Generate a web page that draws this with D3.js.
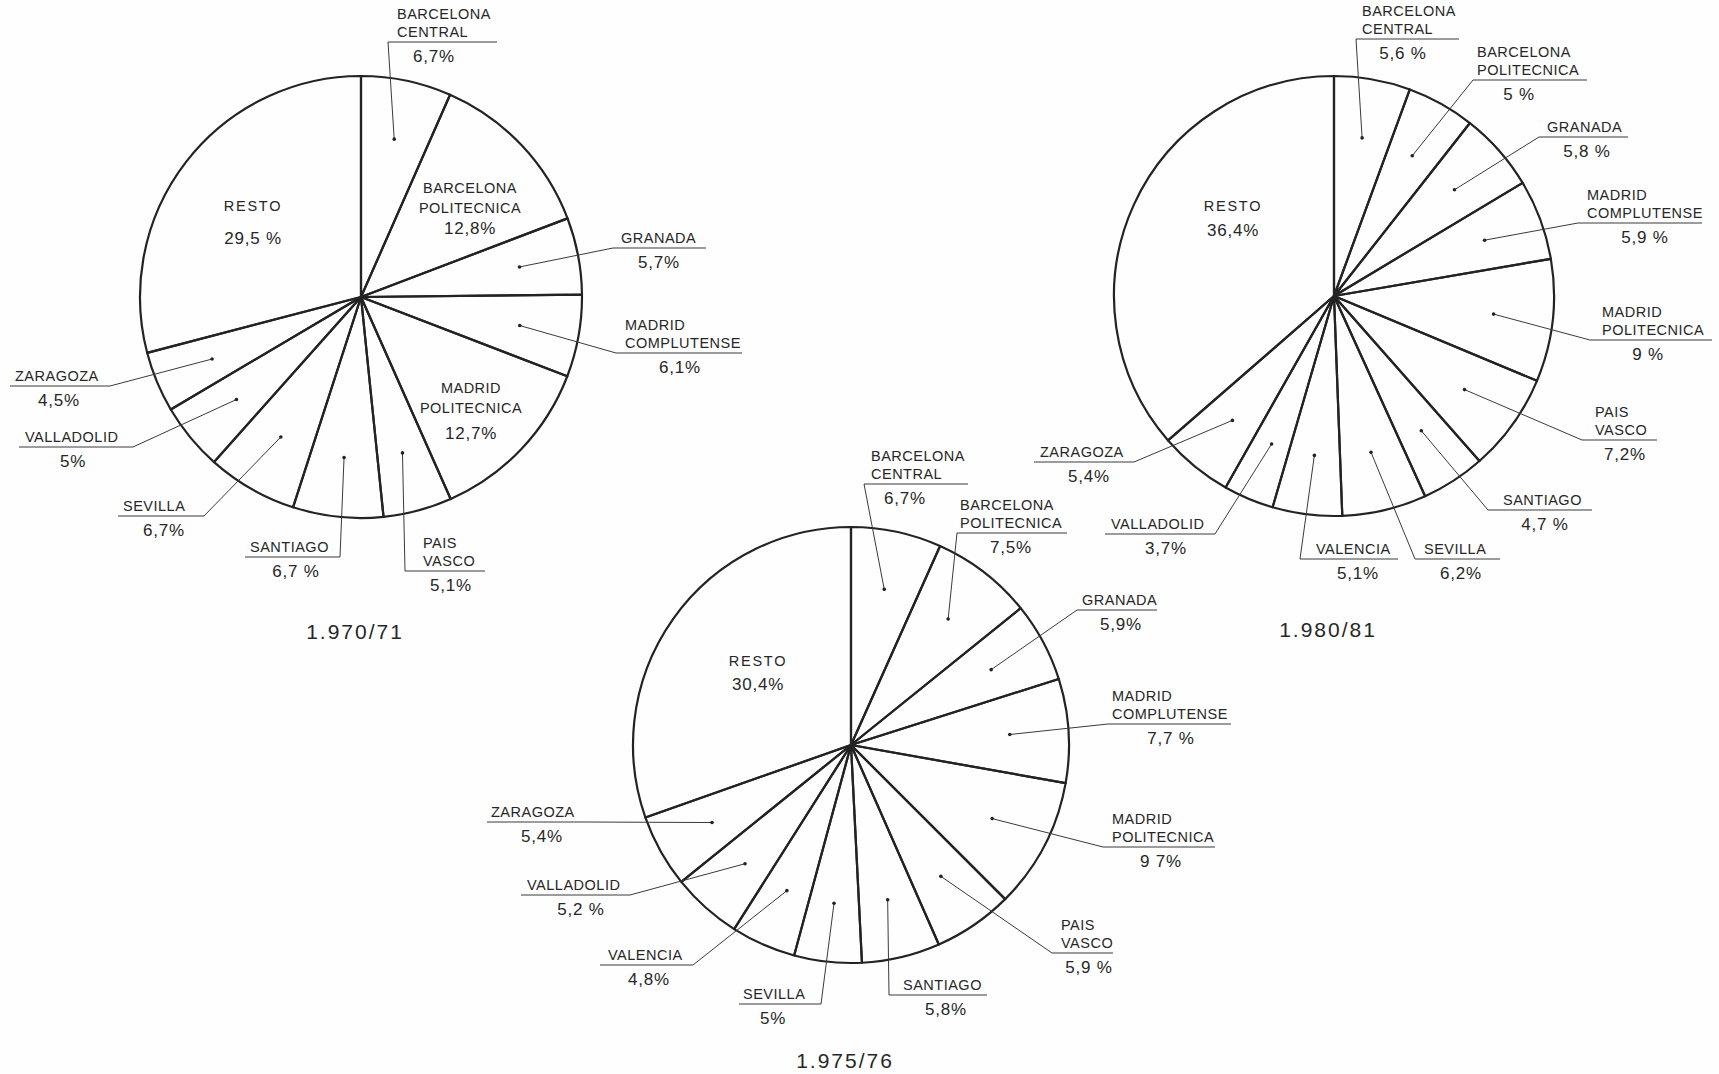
<!DOCTYPE html>
<html><head><meta charset="utf-8">
<script src="https://cdn.jsdelivr.net/npm/d3@7"></script>
<style>
html,body{margin:0;padding:0;background:#fefefe;}
svg{display:block;}
text{font-family:"Liberation Sans", Arial, sans-serif; fill:#272727;}
</style></head><body>
<svg id="chart" width="1719" height="1074"></svg>
<script>
// ---------- DATA ----------
const years = ["1.970/71", "1.975/76", "1.980/81"];

const categories1970 = ["BARCELONA CENTRAL","BARCELONA POLITECNICA","GRANADA","MADRID COMPLUTENSE","MADRID POLITECNICA","PAIS VASCO","SANTIAGO","SEVILLA","VALLADOLID","ZARAGOZA","RESTO"];
const values1970 = [6.7, 12.8, 5.7, 6.1, 12.7, 5.1, 6.7, 6.7, 5, 4.5, 29.5];
const pctText1970 = ["6,7%","12,8%","5,7%","6,1%","12,7%","5,1%","6,7 %","6,7%","5%","4,5%","29,5 %"];

const categories1975 = ["BARCELONA CENTRAL","BARCELONA POLITECNICA","GRANADA","MADRID COMPLUTENSE","MADRID POLITECNICA","PAIS VASCO","SANTIAGO","SEVILLA","VALENCIA","VALLADOLID","ZARAGOZA","RESTO"];
const values1975 = [6.7, 7.5, 5.9, 7.7, 9.7, 5.9, 5.8, 5, 4.8, 5.2, 5.4, 30.4];
const pctText1975 = ["6,7%","7,5%","5,9%","7,7 %","9 7%","5,9 %","5,8%","5%","4,8%","5,2 %","5,4%","30,4%"];

const categories1980 = ["BARCELONA CENTRAL","BARCELONA POLITECNICA","GRANADA","MADRID COMPLUTENSE","MADRID POLITECNICA","PAIS VASCO","SANTIAGO","SEVILLA","VALENCIA","VALLADOLID","ZARAGOZA","RESTO"];
const values1980 = [5.6, 5, 5.8, 5.9, 9, 7.2, 4.7, 6.2, 5.1, 3.7, 5.4, 36.4];
const pctText1980 = ["5,6 %","5 %","5,8 %","5,9 %","9 %","7,2%","4,7 %","6,2%","5,1%","3,7%","5,4%","36,4%"];

// ---------- LAYOUT (positions only) ----------
const layout1970 = [
  {t:"out", lx:388, rx:497, uy:42,  side:"L", nx:397, px:434},
  {t:"in",  cx:470, ys:[193,213], py:234},
  {t:"out", lx:613, rx:706, uy:248, side:"L", nx:621, px:659},
  {t:"out", lx:616, rx:742, uy:353, side:"L", nx:625, px:680},
  {t:"in",  cx:471, ys:[393,413], py:439},
  {t:"out", lx:405, rx:485, uy:571, side:"L", nx:423, px:451},
  {t:"out", lx:245, rx:340, uy:557, side:"R", nx:250, px:296},
  {t:"out", lx:118, rx:204, uy:516, side:"R", nx:123, px:164},
  {t:"out", lx:19,  rx:133, uy:447, side:"R", nx:25,  px:73},
  {t:"out", lx:10,  rx:110, uy:386, side:"R", nx:15,  px:59},
  {t:"in",  cx:253, ys:[211], py:244}
];
const layout1975 = [
  {t:"out", lx:864,  rx:968,  uy:484, side:"L", nx:871,  px:905},
  {t:"out", lx:957,  rx:1067, uy:533, side:"L", nx:960,  px:1011},
  {t:"out", lx:1077, rx:1157, uy:610, side:"L", nx:1082, px:1121},
  {t:"out", lx:1108, rx:1231, uy:724, side:"L", nx:1112, px:1171},
  {t:"out", lx:1103, rx:1215, uy:847, side:"L", nx:1112, px:1161},
  {t:"out", lx:1052, rx:1113, uy:953, side:"L", nx:1061, px:1089},
  {t:"out", lx:889,  rx:987,  uy:995, side:"L", nx:903,  px:946},
  {t:"out", lx:739,  rx:821,  uy:1004,side:"R", nx:743,  px:773},
  {t:"out", lx:600,  rx:693,  uy:965, side:"R", nx:608,  px:649},
  {t:"out", lx:521,  rx:630,  uy:895, side:"R", nx:527,  px:581},
  {t:"out", lx:487,  rx:586,  uy:822, side:"R", nx:491,  px:542},
  {t:"in",  cx:758, ys:[666], py:690}
];
const layout1980 = [
  {t:"out", lx:1356, rx:1459, uy:39,  side:"L", nx:1362, px:1403},
  {t:"out", lx:1473, rx:1587, uy:80,  side:"L", nx:1477, px:1519},
  {t:"out", lx:1539, rx:1628, uy:137, side:"L", nx:1547, px:1587},
  {t:"out", lx:1578, rx:1702, uy:223, side:"L", nx:1587, px:1645},
  {t:"out", lx:1590, rx:1712, uy:340, side:"L", nx:1602, px:1648},
  {t:"out", lx:1582, rx:1657, uy:440, side:"L", nx:1595, px:1625},
  {t:"out", lx:1488, rx:1592, uy:510, side:"L", nx:1503, px:1545},
  {t:"out", lx:1415, rx:1500, uy:559, side:"L", nx:1424, px:1461},
  {t:"out", lx:1300, rx:1398, uy:559, side:"L", nx:1316, px:1358},
  {t:"out", lx:1105, rx:1215, uy:534, side:"R", nx:1111, px:1166},
  {t:"out", lx:1034, rx:1134, uy:462, side:"R", nx:1040, px:1089},
  {t:"in",  cx:1233, ys:[211], py:236}
];

const charts = [
  {year: years[0], cats: categories1970, vals: values1970, pct: pctText1970, lay: layout1970, cx:361,  cy:297, r:221, ty:639},
  {year: years[1], cats: categories1975, vals: values1975, pct: pctText1975, lay: layout1975, cx:851,  cy:745, r:218, ty:1068},
  {year: years[2], cats: categories1980, vals: values1980, pct: pctText1980, lay: layout1980, cx:1334, cy:296, r:220, ty:637}
];

// ---------- DRAW ----------
const svg = d3.select("#chart");
const ink = "#232323";
const nameFont = 14.5, pctFont = 17;

charts.forEach(c => {
  const pie = d3.pie().sort(null).value(d => d);
  const arcs = pie(c.vals);
  const arc = d3.arc().innerRadius(0).outerRadius(c.r);
  const dotArc = d3.arc().innerRadius(c.r * 0.73).outerRadius(c.r * 0.73);

  const g = svg.append("g").attr("transform", `translate(${c.cx},${c.cy})`);
  g.selectAll("path.slice").data(arcs).join("path")
    .attr("class", "slice")
    .attr("d", arc)
    .attr("fill", "none")
    .attr("stroke", ink)
    .attr("stroke-width", 2.2)
    .attr("stroke-linejoin", "round");

  const lg = svg.append("g");
  arcs.forEach((a, i) => {
    const L = c.lay[i];
    const lines = c.cats[i].split(" ");
    if (L.t === "out") {
      const [dx, dy] = dotArc.centroid(a);
      const px = c.cx + dx, py = c.cy + dy;
      const ax = L.side === "L" ? L.lx : L.rx;
      lg.append("line")
        .attr("x1", px).attr("y1", py).attr("x2", ax).attr("y2", L.uy)
        .attr("stroke", "#3a3a3a").attr("stroke-width", 1);
      lg.append("line")
        .attr("x1", L.lx).attr("y1", L.uy).attr("x2", L.rx).attr("y2", L.uy)
        .attr("stroke", "#3a3a3a").attr("stroke-width", 1.2);
      lg.append("circle").attr("cx", px).attr("cy", py).attr("r", 1.8).attr("fill", ink);
      lines.forEach((s, k) => {
        lg.append("text")
          .attr("x", L.nx)
          .attr("y", L.uy - 5 - (lines.length - 1 - k) * 18)
          .attr("font-size", nameFont)
          .attr("letter-spacing", 0.5)
          .text(s);
      });
      lg.append("text")
        .attr("x", L.px).attr("y", L.uy + 20)
        .attr("text-anchor", "middle")
        .attr("font-size", pctFont)
        .attr("letter-spacing", 0.8)
        .text(c.pct[i]);
    } else {
      lines.forEach((s, k) => {
        lg.append("text")
          .attr("x", L.cx).attr("y", L.ys[k])
          .attr("text-anchor", "middle")
          .attr("font-size", nameFont)
          .attr("letter-spacing", lines.length === 1 ? 1.8 : 0.5)
          .text(s);
      });
      lg.append("text")
        .attr("x", L.cx).attr("y", L.py)
        .attr("text-anchor", "middle")
        .attr("font-size", pctFont)
        .attr("letter-spacing", 0.8)
        .text(c.pct[i]);
    }
  });

  svg.append("text")
    .attr("x", c.cx - 6).attr("y", c.ty)
    .attr("text-anchor", "middle")
    .attr("font-size", 21)
    .attr("letter-spacing", 2)
    .text(c.year);
});
</script>
</body></html>
